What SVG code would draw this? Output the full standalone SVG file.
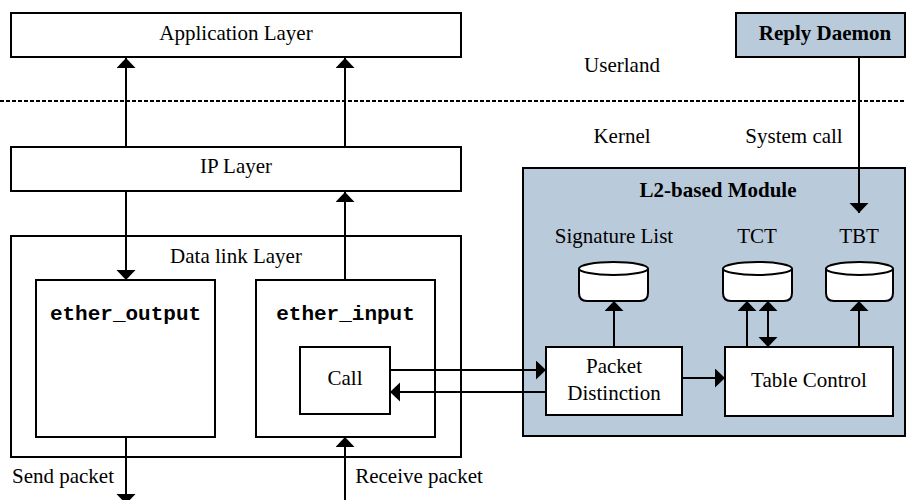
<svg xmlns="http://www.w3.org/2000/svg" width="906" height="500" viewBox="0 0 906 500">
<style>
  .box{fill:#fff;stroke:#000;stroke-width:2}
  .blue{fill:#b9cadb;stroke:#000;stroke-width:2}
  .t{font-family:"Liberation Serif","Times New Roman",serif;font-size:21px;fill:#000;text-anchor:middle}
  .b{font-weight:bold}
  .m{font-family:"Liberation Mono","Courier New",monospace;font-size:21px;font-weight:bold;fill:#000;text-anchor:middle}
  .ln{stroke:#000;stroke-width:2;fill:none}
  .a{marker-end:url(#ah)}
  .cyl{fill:#fff;stroke:#000;stroke-width:2}
</style>
<defs>
  <marker id="ah" markerUnits="userSpaceOnUse" markerWidth="11" markerHeight="20" refX="10" refY="9.5" orient="auto-start-reverse">
    <path d="M0,0 L10,9.5 L0,19 z" fill="#000"/>
  </marker>
</defs>

<rect width="906" height="500" fill="#fff"/>

<g id="userland-kernel">
  <line x1="0" y1="101" x2="906" y2="101" stroke="#000" stroke-width="2" stroke-dasharray="4,2"/>
  <text class="t" x="622" y="72">Userland</text>
  <text class="t" x="622" y="143">Kernel</text>
</g>

<g id="l2module">
  <rect class="blue" x="523" y="168" width="382" height="268"/>
  <text class="t b" x="718" y="197">L2-based Module</text>
</g>

<g id="app-layer">
  <rect class="box" x="11" y="13" width="450" height="44"/>
  <text class="t" x="236" y="40">Application Layer</text>
</g>

<g id="reply-daemon">
  <rect class="blue" x="736" y="13" width="169" height="44"/>
  <text class="t b" x="825" y="40">Reply Daemon</text>
</g>

<g id="ip-layer">
  <rect class="box" x="11" y="147" width="450" height="44"/>
  <text class="t" x="236" y="173">IP Layer</text>
</g>

<g id="datalink-layer">
  <rect class="box" x="11" y="236" width="450" height="221"/>
  <text class="t" x="236" y="263">Data link Layer</text>
</g>

<g id="ether-output">
  <rect class="box" x="36" y="280" width="179" height="157"/>
  <text class="m" x="125.5" y="320">ether_output</text>
</g>

<g id="ether-input">
  <rect class="box" x="256" y="280" width="179" height="157"/>
  <text class="m" x="345.5" y="320">ether_input</text>
</g>

<g id="call">
  <rect class="box" x="300" y="347" width="90" height="67"/>
  <text class="t" x="345" y="385">Call</text>
</g>

<g id="packet-distinction">
  <rect class="box" x="546" y="347" width="136" height="68"/>
  <text class="t" x="614" y="373">Packet</text>
  <text class="t" x="614" y="400">Distinction</text>
</g>

<g id="table-control">
  <rect class="box" x="725" y="347" width="168" height="69"/>
  <text class="t" x="809" y="387">Table Control</text>
</g>

<g id="signature-list">
  <text class="t" x="614" y="243">Signature List</text>
  <path class="cyl" d="M579,268.5 A34.5,6.5 0 0 1 648,268.5 L648,293 Q648,301 640,301 L587,301 Q579,301 579,293 Z"/>
  <path class="ln" d="M579,268.5 A34.5,6.5 0 0 0 648,268.5"/>
</g>

<g id="tct">
  <text class="t" x="757" y="243">TCT</text>
  <path class="cyl" d="M723,268.5 A34.5,6.5 0 0 1 792,268.5 L792,293 Q792,301 784,301 L731,301 Q723,301 723,293 Z"/>
  <path class="ln" d="M723,268.5 A34.5,6.5 0 0 0 792,268.5"/>
</g>

<g id="tbt">
  <text class="t" x="859" y="243">TBT</text>
  <path class="cyl" d="M826,268.5 A33.5,6.5 0 0 1 893,268.5 L893,293 Q893,301 885,301 L834,301 Q826,301 826,293 Z"/>
  <path class="ln" d="M826,268.5 A33.5,6.5 0 0 0 893,268.5"/>
</g>

<g id="connectors">
  <line class="ln a" x1="126" y1="147" x2="126" y2="58"/>
  <line class="ln a" x1="345" y1="147" x2="345" y2="58"/>
  <line class="ln a" x1="126" y1="191" x2="126" y2="280"/>
  <line class="ln a" x1="345" y1="280" x2="345" y2="192"/>
  <line class="ln a" x1="859" y1="57" x2="859" y2="213"/>
  <text class="t" x="794" y="143">System call</text>
  <line class="ln a" x1="390" y1="370" x2="546" y2="370"/>
  <line class="ln a" x1="546" y1="392" x2="390" y2="392"/>
  <line class="ln a" x1="682" y1="378" x2="725" y2="378"/>
  <line class="ln a" x1="614" y1="347" x2="614" y2="301"/>
  <line class="ln a" x1="747" y1="347" x2="747" y2="301"/>
  <line class="ln a" x1="768" y1="301" x2="768" y2="347" style="marker-start:url(#ah)"/>
  <line class="ln a" x1="859" y1="347" x2="859" y2="301"/>
  <line class="ln a" x1="126" y1="437" x2="126" y2="504"/>
  <line class="ln a" x1="345" y1="500" x2="345" y2="437"/>
  <text class="t" x="63" y="483">Send packet</text>
  <text class="t" x="419" y="483">Receive packet</text>
</g>
</svg>
